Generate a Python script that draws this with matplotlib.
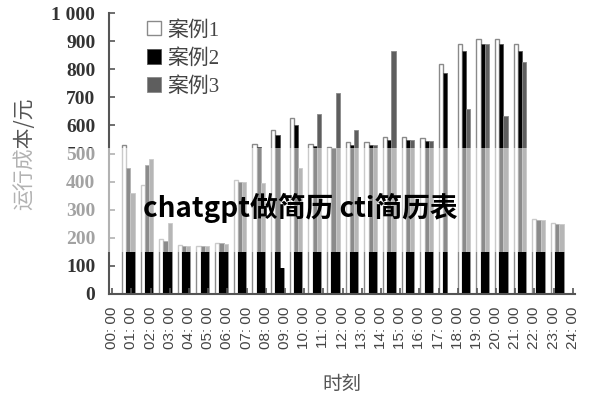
# Grouped bar chart: hourly running cost for three cases, with a watermark band
import numpy as np
import matplotlib.pyplot as plt
from matplotlib.patches import Rectangle

# Step 1: the data
hours = ['%02d: 00' % h for h in range(25)]
legend_labels = ['案例1', '案例2', '案例3']
case1 = [530, 388, 196, 174, 172, 183, 405, 535, 585, 627, 535, 522, 540, 540,
         557, 557, 555, 820, 890, 907, 907, 890, 267, 253]
case2 = [447, 458, 190, 172, 170, 180, 400, 523, 566, 600, 525, 518, 530, 530,
         547, 548, 543, 786, 865, 890, 890, 865, 265, 248]
case3 = [360, 480, 253, 172, 170, 178, 398, 395, 92, 448, 642, 717, 584, 530,
         866, 548, 543, 0, 657, 890, 633, 826, 262, 248]
watermark = 'chatgpt做简历 cti简历表'

plt.rcParams['font.family'] = ['Liberation Serif', 'Noto Sans CJK SC']

# Step 2: figure and axes placed like the reference
fig = plt.figure(figsize=(6, 4), dpi=100)
ax = fig.add_axes([0.182, 0.265, 0.776, 0.7025])

x = 0.83 + 0.972 * np.arange(len(case1))
w = 0.22

ax.bar(x - w, case1, w, color='white', edgecolor='#8a8a8a', linewidth=1.0, label=legend_labels[0])
ax.bar(x, case2, w, color='black', edgecolor='#555555', linewidth=0.6, label=legend_labels[1])
ax.bar(x + w, case3, w, color='#5e5e5e', edgecolor='#8a8a8a', linewidth=0.6, label=legend_labels[2])

# the lower strip of the picture shows case 2 and 3 as solid black
ax.bar(x, np.minimum(case2, 150), w, color='black', linewidth=0)
ax.bar(x + w, np.minimum(case3, 150), w, color='black', linewidth=0)

# Step 3: axes styling
ax.set_xlim(-0.16, 24.1)
ax.set_ylim(0, 1000)
ax.set_yticks(range(0, 1001, 100))
ax.set_yticklabels([str(v) if v < 1000 else '1 000' for v in range(0, 1001, 100)],
                   fontsize=14, color='#333333', fontweight='bold')
ax.set_xticks(range(25))
ax.set_xticklabels(hours, rotation=90, fontsize=11, color='#444444',
                   family=['Liberation Sans'])
ax.tick_params(axis='both', direction='in', length=4, color='#555555', width=1.2)
ax.tick_params(axis='y', pad=10)
ax.tick_params(axis='x', pad=9)
for side in ['top', 'right']:
    ax.spines[side].set_visible(False)
for side in ['left', 'bottom']:
    ax.spines[side].set_color('#555555')
    ax.spines[side].set_linewidth(1.5)

ax.set_ylabel('运行成本/元', fontsize=15, color='#555555', family=['Noto Sans CJK SC'], labelpad=12)
ax.set_xlabel('时刻', fontsize=14, color='#555555', family=['Noto Sans CJK SC'], labelpad=18)

leg = ax.legend(loc='upper left', bbox_to_anchor=(0.04, 1.04), frameon=False,
                handlelength=0.7, handleheight=0.7, handletextpad=0.3, labelspacing=0.4,
                prop={'family': ['Liberation Serif', 'Noto Sans CJK SC'], 'size': 15})
for t in leg.get_texts():
    t.set_color('#444444')

# Step 4: the white watermark band and its text
fig.patches.append(Rectangle((0, 0.37), 1, 0.26, transform=fig.transFigure,
                             facecolor='white', alpha=0.55, edgecolor='none', zorder=10))
fig.text(0.5, 0.48, watermark, ha='center', va='center', fontsize=20, fontweight='bold',
         color='black', family=['Noto Sans CJK SC', 'DejaVu Sans'], zorder=11)

fig.savefig('out.png', dpi=100)
